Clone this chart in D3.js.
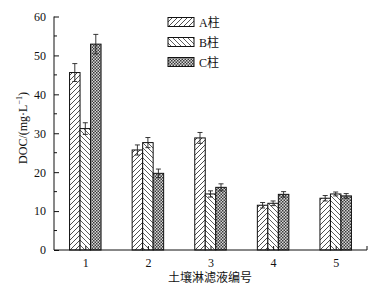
<!DOCTYPE html>
<html><head><meta charset="utf-8">
<script src="https://cdn.jsdelivr.net/npm/d3@7"></script>
<style>body{margin:0;background:#fff}svg{display:block}</style>
</head><body>
<script>
const categories = ["1","2","3","4","5"];
const seriesNames = ["A柱","B柱","C柱"];
const valuesA = [45.6, 25.7, 28.8, 11.5, 13.3];
const valuesB = [31.2, 27.6, 14.4, 12.0, 14.4];
const valuesC = [52.9, 19.7, 16.1, 14.3, 13.9];
const errA = [2.3, 1.3, 1.4, 0.7, 0.7];
const errB = [1.5, 1.3, 0.8, 0.6, 0.5];
const errC = [2.5, 1.1, 0.9, 0.7, 0.6];
const yTicks = [0,10,20,30,40,50,60];

const W=378,H=289;
const svg=d3.select("body").append("svg").attr("width",W).attr("height",H);
const defs=svg.append("defs");
const pA=defs.append("pattern").attr("id","pA").attr("patternUnits","userSpaceOnUse").attr("width",5).attr("height",5);
pA.append("rect").attr("width",5).attr("height",5).attr("fill","#fff");
pA.append("path").attr("d","M0,5L5,0M-1,1L1,-1M4,6L6,4").attr("stroke","#222").attr("stroke-width",0.8);
const pB=defs.append("pattern").attr("id","pB").attr("patternUnits","userSpaceOnUse").attr("width",5).attr("height",5);
pB.append("rect").attr("width",5).attr("height",5).attr("fill","#fff");
pB.append("path").attr("d","M0,0L5,5M-1,4L1,6M4,-1L6,1").attr("stroke","#333").attr("stroke-width",0.8);
const pC=defs.append("pattern").attr("id","pC").attr("patternUnits","userSpaceOnUse").attr("width",3).attr("height",3);
pC.append("rect").attr("width",3).attr("height",3).attr("fill","#d8d8d8");
pC.append("rect").attr("width",1.5).attr("height",1.5).attr("fill","#3a3a3a");
pC.append("rect").attr("x",1.5).attr("y",1.5).attr("width",1.5).attr("height",1.5).attr("fill","#3a3a3a");
const pats=["url(#pA)","url(#pB)","url(#pC)"];

const x=d3.scaleLinear().domain([0.5,5.5]).range([54,367]);
const y=d3.scaleLinear().domain([0,60]).range([250,16.5]);
const bw=10.5;
const series=[valuesA,valuesB,valuesC];
const errs=[errA,errB,errC];
const font="'Liberation Serif','Times New Roman',serif";

series.forEach((vals,si)=>{
  const g=svg.append("g");
  g.selectAll("rect").data(vals).join("rect")
    .attr("x",(d,i)=>x(i+1)+(si-1.5)*bw).attr("width",bw)
    .attr("y",d=>y(d)).attr("height",d=>y(0)-y(d))
    .attr("fill",pats[si]).attr("stroke","#111").attr("stroke-width",1);
  const eg=svg.append("g").attr("stroke","#222").attr("stroke-width",0.9).attr("fill","none");
  vals.forEach((v,i)=>{
    const cx=x(i+1)+(si-1)*bw, e=errs[si][i];
    eg.append("path").attr("d",`M${cx},${y(v-e)}V${y(v+e)}M${cx-2.5},${y(v+e)}H${cx+2.5}M${cx-2.5},${y(v-e)}H${cx+2.5}`);
  });
});

// axes
const yAxis=d3.axisLeft(y).tickValues(yTicks).tickSize(-5).tickPadding(8).tickFormat(d3.format("d"));
const ya=svg.append("g").attr("transform","translate(54,0)").call(yAxis);
ya.select(".domain").attr("d","M0,16.5V250").attr("stroke","#111");
ya.selectAll("text").attr("font-family",font).attr("font-size",12).attr("fill","#111");
ya.selectAll("line").attr("stroke","#111");
const minor=d3.range(5,60,10);
svg.append("g").selectAll("line").data(minor).join("line")
  .attr("x1",54).attr("x2",57).attr("y1",d=>y(d)).attr("y2",d=>y(d)).attr("stroke","#111");

const xAxis=d3.axisBottom(x).tickValues([1,2,3,4,5]).tickSize(-4).tickPadding(8).tickFormat((d,i)=>categories[i]);
const xa=svg.append("g").attr("transform","translate(0,250)").call(xAxis);
xa.select(".domain").attr("d","M54,0H367V-4").attr("stroke","#111");
xa.selectAll("text").attr("font-family",font).attr("font-size",12).attr("fill","#111");
xa.selectAll("line").attr("stroke","#111");

svg.append("text").attr("x",210).attr("y",282).attr("text-anchor","middle")
  .attr("font-family","'Noto Sans CJK SC',sans-serif").attr("font-size",12).attr("fill","#111").text("土壤淋滤液编号");

const yl=svg.append("text").attr("transform","translate(27,128) rotate(-90)").attr("text-anchor","middle")
  .attr("font-family",font).attr("font-size",12).attr("fill","#111");
yl.append("tspan").text("DOC/(mg·L");
yl.append("tspan").attr("dy",-5).attr("font-size",8).text("−1");
yl.append("tspan").attr("dy",5).text(")");

// legend
const lg=svg.append("g");
seriesNames.forEach((n,i)=>{
  const yy=17.5+i*20;
  lg.append("rect").attr("x",168).attr("y",yy).attr("width",26).attr("height",9)
    .attr("fill",pats[i]).attr("stroke","#111").attr("stroke-width",1);
  lg.append("text").attr("x",199).attr("y",yy+9).attr("font-family",font).attr("font-size",12).attr("fill","#111")
    .text(n.slice(0,1)).append("tspan").attr("font-family","'Noto Sans CJK SC',sans-serif").text(n.slice(1));
});
</script>
</body></html>
